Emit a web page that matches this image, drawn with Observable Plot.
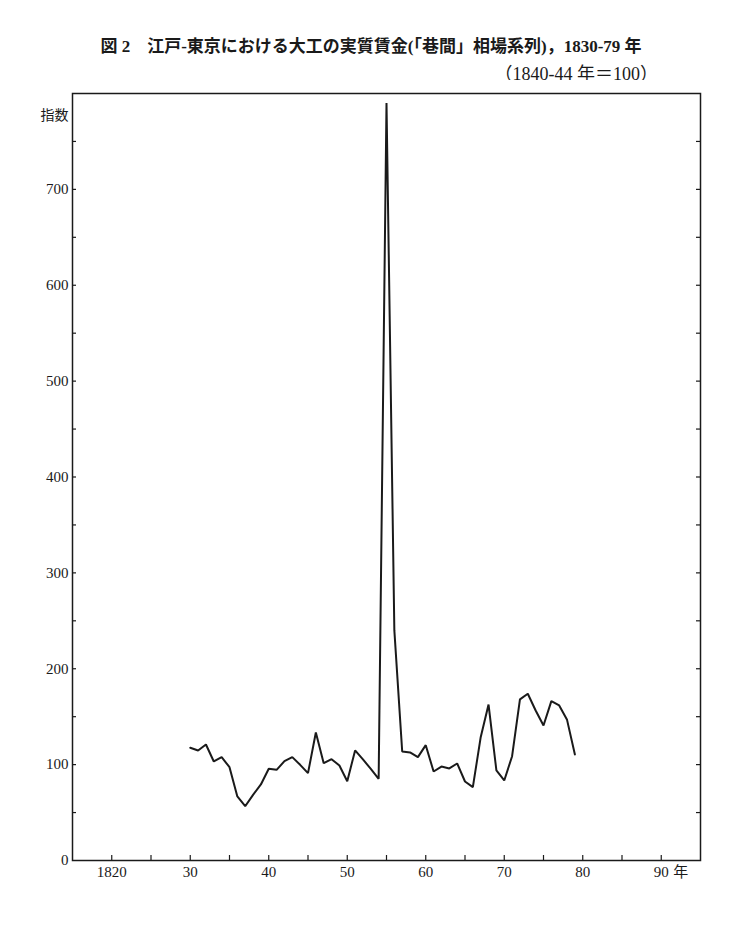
<!DOCTYPE html>
<html><head><meta charset="utf-8">
<script src="https://cdn.jsdelivr.net/npm/d3@7"></script>
<script src="https://cdn.jsdelivr.net/npm/@observablehq/plot@0.6"></script>
<style>
body{margin:0;background:#fff;width:742px;height:942px;position:relative;overflow:hidden;font-family:"Liberation Serif","Noto Sans CJK JP",serif;color:#1a1a1a}
#title{position:absolute;left:0;width:742px;text-align:center;top:37px;font-size:17px;line-height:20px;font-weight:bold;white-space:nowrap}
#sub{position:absolute;right:84px;top:63px;font-size:18px;line-height:22px;white-space:nowrap}
#chart{position:absolute;left:0;top:80px}
</style></head>
<body>
<div id="title">図 2　江戸-東京における大工の実質賃金(「巷間」相場系列)，1830-79 年</div>
<div id="sub">（1840-44 年＝100）</div>
<div id="chart"></div>
<script>
const years = [1830,1831,1832,1833,1834,1835,1836,1837,1838,1839,
  1840,1841,1842,1843,1844,1845,1846,1847,1848,1849,
  1850,1851,1852,1853,1854,1855,1856,1857,1858,1859,
  1860,1861,1862,1863,1864,1865,1866,1867,1868,1869,
  1870,1871,1872,1873,1874,1875,1876,1877,1878,1879];
const wages = [117.6,114.7,121,103.3,107.8,97.3,66.8,56.6,68.5,79.3,
  95.7,94.6,103.6,107.8,99.8,91.1,133.5,101.5,105.7,99.1,
  82.7,114.8,105.4,95.6,85.2,790,240,113.7,112.7,107.8,
  120.3,92.8,98,96,101.2,82.4,76.5,128.6,162.7,93.9,
  83.5,108.8,168,173.9,156.5,140.8,166.2,161.7,146.7,110.6];
const xTicks = [1820,1830,1840,1850,1860,1870,1880,1890];
const xTickLabels = ["1820","30","40","50","60","70","80","90"];
const xMinorTicks = [1820,1825,1830,1835,1840,1845,1850,1855,1860,1865,1870,1875,1880,1885,1890];
const yTicks = [0,100,200,300,400,500,600,700];
const yMinorTicks = [50,100,150,200,250,300,350,400,450,500,550,600,650,700,750];
const yUnit = "指数";
const xUnit = "年";

const W = 742, H = 830, mL = 72, mR = 42, mT = 13, mB = 50;
const pw = W - mL - mR, ph = H - mT - mB;
const ink = "#1a1a1a";
const data = years.map((y, i) => ({year: y, value: wages[i]}));

const chart = Plot.plot({
  width: W, height: H,
  marginLeft: mL, marginRight: mR, marginTop: mT, marginBottom: mB,
  x: {domain: [1815, 1895]},
  y: {domain: [0, 800]},
  style: {fontFamily: '"Liberation Serif","Noto Sans CJK JP",serif', fontSize: "15px", color: ink, background: "white"},
  marks: [
    Plot.frame({stroke: ink, strokeWidth: 1.5}),
    Plot.axisX({ticks: xTicks, tickFormat: d => xTickLabels[xTicks.indexOf(d)], tickSize: 0, tickPadding: 6, label: null, fontSize: 15}),
    Plot.axisY({ticks: yTicks, tickSize: 0, tickPadding: 4, label: null, fontSize: 15}),
    Plot.tickX(xMinorTicks, {x: d => d, insetTop: ph - 5, stroke: ink, strokeWidth: 1.2}),
    Plot.tickY(yMinorTicks, {y: d => d, insetRight: pw - 4, stroke: ink, strokeWidth: 1.2}),
    Plot.tickY(yMinorTicks, {y: d => d, insetLeft: pw - 4, stroke: ink, strokeWidth: 1.2}),
    Plot.line(data, {x: "year", y: "value", stroke: ink, strokeWidth: 2, strokeLinejoin: "miter"}),
    Plot.text([yUnit], {frameAnchor: "top-left", dx: -4, dy: 17, textAnchor: "end", fontSize: 14, fill: ink}),
    Plot.text([xUnit], {x: [1890], y: [0], dx: 12, dy: 6, textAnchor: "start", lineAnchor: "top", fontSize: 15, fill: ink})
  ]
});
document.getElementById("chart").appendChild(chart);
</script>
</body></html>
